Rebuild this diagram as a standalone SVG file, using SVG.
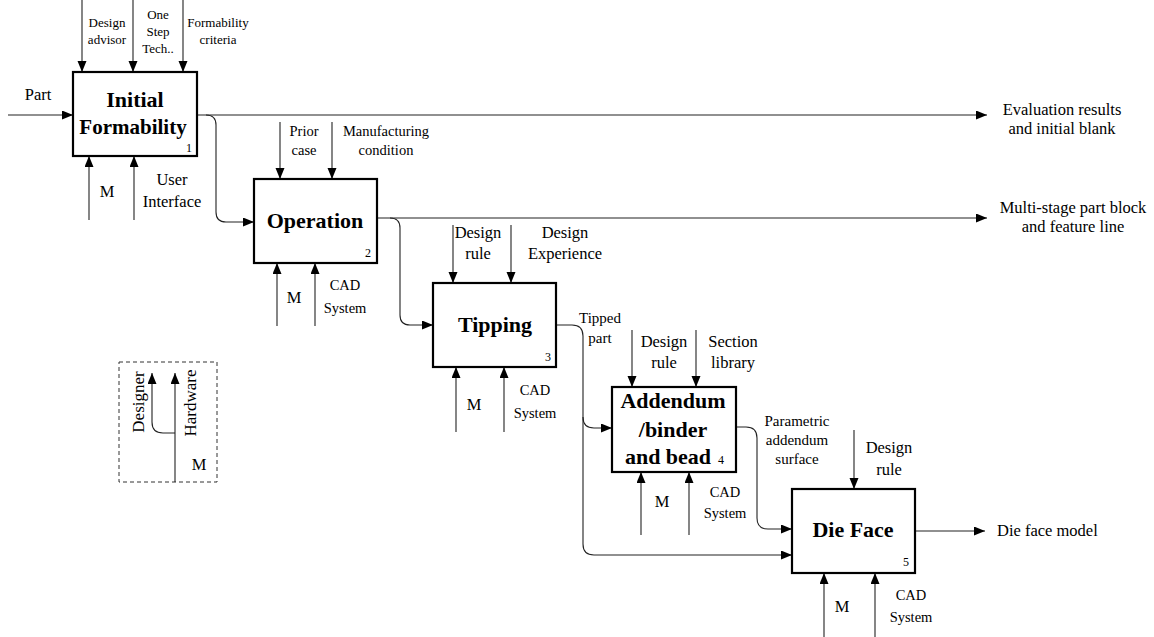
<svg xmlns="http://www.w3.org/2000/svg" width="1154" height="637" viewBox="0 0 1154 637">
<defs>
<marker id="ah" markerUnits="userSpaceOnUse" markerWidth="12" markerHeight="10" refX="11" refY="4.5" orient="auto">
<path d="M0,0 L11,4.5 L0,9 z" fill="#000"/>
</marker>
<style>
.box{fill:#fff;stroke:#000;stroke-width:2.2}
.arr{fill:none;stroke:#222;stroke-width:1.1;marker-end:url(#ah)}
.t{font-weight:bold;font-size:22px;text-anchor:middle}
.s{font-size:13px;text-anchor:middle}
.p{font-size:15px;text-anchor:middle}
.m{font-size:14.5px;text-anchor:middle}
.l{font-size:16.5px;text-anchor:middle}
.n{font-size:12px;text-anchor:middle}
</style>
</defs>
<rect width="1154" height="637" fill="#fff"/>
<g font-family="Liberation Serif, Tinos, Times New Roman, Noto Serif, DejaVu Serif, serif" fill="#000">
<g id="connectors">
<path class="arr" d="M8,115 H73"/>
<path class="arr" d="M197,115 H987"/>
<path class="arr" d="M206,115 Q216,115 216,125 V212 Q216,222 226,222 H254"/>
<path class="arr" d="M377,218 H987"/>
<path class="arr" d="M390,218 Q400,218 400,228 V315 Q400,325 410,325 H433"/>
<path class="arr" d="M556,325 H572 Q583,325 583,336 V417 Q583,428 594,428 H612"/>
<path class="arr" d="M583,417 V544 Q583,555 594,555 H792"/>
<path class="arr" d="M736,427 H746 Q757,427 757,438 V518 Q757,529 768,529 H792"/>
<path class="arr" d="M915,531 H985"/>
<path class="arr" d="M82,0 V72"/>
<path class="arr" d="M133,0 V72"/>
<path class="arr" d="M183,0 V72"/>
<path class="arr" d="M280,122 V179"/>
<path class="arr" d="M332,122 V179"/>
<path class="arr" d="M453,225 V283"/>
<path class="arr" d="M511,225 V283"/>
<path class="arr" d="M632,330 V387"/>
<path class="arr" d="M696,330 V387"/>
<path class="arr" d="M854,430 V489"/>
<path class="arr" d="M89,220 V156"/>
<path class="arr" d="M134,220 V156"/>
<path class="arr" d="M277,326 V263"/>
<path class="arr" d="M315,326 V263"/>
<path class="arr" d="M456,432 V367"/>
<path class="arr" d="M504,432 V367"/>
<path class="arr" d="M641,535 V472"/>
<path class="arr" d="M689,535 V472"/>
<path class="arr" d="M824,637 V573"/>
<path class="arr" d="M875,637 V573"/>
</g>

<g id="labels">
<text x="38" y="100" font-size="16.5" text-anchor="middle">Part</text>
<text class="s" x="107" y="27">Design</text>
<text class="s" x="107" y="44">advisor</text>
<text class="s" x="158" y="19">One</text>
<text class="s" x="158" y="36">Step</text>
<text class="s" x="158" y="53">Tech..</text>
<text class="s" x="218" y="27">Formability</text>
<text class="s" x="218" y="44">criteria</text>
<text class="l" x="107" y="197">M</text>
<text class="l" x="172" y="185">User</text>
<text class="l" x="172" y="207">Interface</text>
<text class="l" x="1062" y="115">Evaluation results</text>
<text class="l" x="1062" y="134">and initial blank</text>

<text class="m" x="304" y="136">Prior</text>
<text class="m" x="304" y="155">case</text>
<text class="m" x="386" y="136">Manufacturing</text>
<text class="m" x="386" y="155">condition</text>
<text class="l" x="294" y="303">M</text>
<text class="m" x="345" y="290">CAD</text>
<text class="m" x="345" y="313">System</text>
<text class="l" x="1073" y="213">Multi-stage part block</text>
<text class="l" x="1073" y="232">and feature line</text>

<text class="l" x="478" y="238">Design</text>
<text class="l" x="478" y="259">rule</text>
<text class="l" x="565" y="238">Design</text>
<text class="l" x="565" y="259">Experience</text>
<text class="l" x="474" y="410">M</text>
<text class="m" x="535" y="395">CAD</text>
<text class="m" x="535" y="418">System</text>
<text class="p" x="600" y="323">Tipped</text>
<text class="p" x="600" y="343">part</text>

<text class="l" x="664" y="347">Design</text>
<text class="l" x="664" y="368">rule</text>
<text class="l" x="733" y="347">Section</text>
<text class="l" x="733" y="368">library</text>
<text class="l" x="662" y="507">M</text>
<text class="m" x="725" y="497">CAD</text>
<text class="m" x="725" y="518">System</text>
<text class="p" x="797" y="426">Parametric</text>
<text class="p" x="797" y="445">addendum</text>
<text class="p" x="797" y="464">surface</text>

<text class="l" x="889" y="453">Design</text>
<text class="l" x="889" y="475">rule</text>
<text class="l" x="842" y="612">M</text>
<text class="m" x="911" y="600">CAD</text>
<text class="m" x="911" y="622">System</text>
<text x="997" y="536" font-size="16.5">Die face model</text>
</g>

<g id="node1">
<rect class="box" x="73" y="72" width="124" height="84"/>
<text class="t" x="135" y="107">Initial</text>
<text class="t" x="133" y="134" style="font-size:21px">Formability</text>
<text class="n" x="189" y="152">1</text>
</g>
<g id="node2">
<rect class="box" x="254" y="179" width="123" height="84"/>
<text class="t" x="315" y="228">Operation</text>
<text class="n" x="368" y="257">2</text>
</g>
<g id="node3">
<rect class="box" x="433" y="283" width="123" height="84"/>
<text class="t" x="495" y="332">Tipping</text>
<text class="n" x="548" y="361">3</text>
</g>
<g id="node4">
<rect class="box" x="612" y="387" width="124" height="85"/>
<text class="t" x="673" y="408">Addendum</text>
<text class="t" x="673" y="437">/binder</text>
<text class="t" x="668" y="464">and bead</text>
<text class="n" x="721" y="464">4</text>
</g>
<g id="node5">
<rect class="box" x="792" y="489" width="123" height="84"/>
<text class="t" x="853" y="537">Die Face</text>
<text class="n" x="906" y="566">5</text>
</g>

<g id="legend">
<rect x="119" y="362" width="98" height="120" fill="none" stroke="#333" stroke-width="1" stroke-dasharray="4,3"/>
<path class="arr" d="M175,482 V373"/>
<path class="arr" d="M175,433 H163 Q152,433 152,422 V373"/>
<text transform="translate(144,402) rotate(-90)" font-size="17" text-anchor="middle">Designer</text>
<text transform="translate(196,403) rotate(-90)" font-size="17" text-anchor="middle">Hardware</text>
<text x="199" y="470" font-size="16.5" text-anchor="middle">M</text>
</g>
</g>
</svg>
